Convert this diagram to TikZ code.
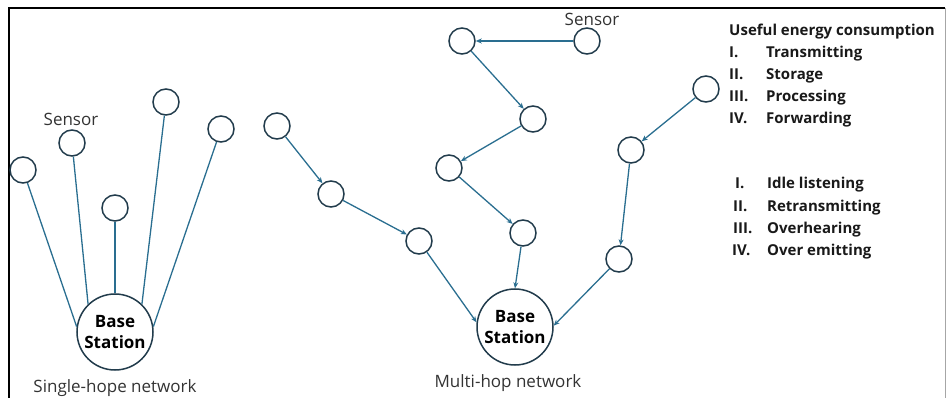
\documentclass[tikz,border=0pt]{standalone}
\usepackage{fontspec}
\setmainfont{Open Sans}
\usetikzlibrary{arrows.meta}
\definecolor{ring}{HTML}{223C4C}
\definecolor{link}{HTML}{2A6E90}
\begin{document}
\begin{tikzpicture}[x=1pt,y=-1pt,
 sensor/.style={circle,draw=ring,line width=1.5pt,minimum size=26pt,inner sep=0pt},
 bstation/.style={circle,draw=ring,line width=1.5pt,minimum size=76pt,inner sep=0pt,font=\fontsize{17}{21}\selectfont\bfseries,align=center},
 wire/.style={draw=link,line width=1.3pt},
 hop/.style={wire,-{Stealth[length=6pt,width=5pt]}},
 lbl/.style={font=\fontsize{17}{20}\selectfont,text=black!80,inner sep=0pt},
 item/.style={font=\fontsize{15}{17}\selectfont\bfseries,anchor=base west,inner sep=0pt,text=black!90}
]
\useasboundingbox (0,0) rectangle (946,398);
% frame
\draw[black,line width=1.6pt] (9,398) -- (9,8) -- (945,8);
\draw[black!35,line width=1pt] (945,8) -- (945,398);

% single-hop network
\node[bstation] (bs1) at (115,332) {Base\\Station};
\node[sensor] (c1) at (23,170) {};
\node[sensor] (c2) at (72,143) {};
\node[sensor] (c3) at (115,208) {};
\node[sensor] (c4) at (166,102) {};
\node[sensor] (c5) at (221,129) {};
\node[lbl] (sl1) at (71,119) {Sensor};
\node[lbl] (net1) at (115,388) {Single-hope network};
\draw[wire] (c1) -- (bs1.172);
\draw[wire] (c2) -- (bs1.134);
\draw[wire] (c3) -- (bs1.90);
\draw[wire] (c4) -- (bs1.46);
\draw[wire] (c5) -- (bs1.8);

% multi-hop network
\node[bstation] (bs2) at (515,327) {Base\\Station};
\node[sensor] (s0) at (587,41) {};
\node[sensor] (m1) at (462,41) {};
\node[sensor] (m2) at (533,119) {};
\node[sensor] (m3) at (449,168) {};
\node[sensor] (m4) at (523,233) {};
\node[sensor] (a1) at (277,126) {};
\node[sensor] (a2) at (331,194) {};
\node[sensor] (a3) at (419,241) {};
\node[sensor] (r1) at (706,89) {};
\node[sensor] (r2) at (631,150) {};
\node[sensor] (r3) at (619,259) {};
\node[lbl] (sl2) at (592,19) {Sensor};
\node[lbl] (net2) at (508,383) {Multi-hop network};
\draw[hop] (s0) -- (m1);
\draw[hop] (m1) -- (m2);
\draw[hop] (m2) -- (m3);
\draw[hop] (m3) -- (m4);
\draw[hop] (m4) -- (bs2.90);
\draw[hop] (a1) -- (a2);
\draw[hop] (a2) -- (a3);
\draw[hop] (a3) -- (bs2.173);
\draw[hop] (r1) -- (r2);
\draw[hop] (r2) -- (r3);
\draw[hop] (r3) -- (bs2.2);

% energy lists
\node[item] (title) at (729,36) {Useful energy consumption};
\node[item] (u1n) at (729,58) {I.};
\node[item] (u1) at (766,58) {Transmitting};
\node[item] (u2n) at (729,80) {II.};
\node[item] (u2) at (766,80) {Storage};
\node[item] (u3n) at (729,102) {III.};
\node[item] (u3) at (766,102) {Processing};
\node[item] (u4n) at (729,124) {IV.};
\node[item] (u4) at (766,124) {Forwarding};
\node[item] (w1n) at (735,189) {I.};
\node[item] (w1) at (767,189) {Idle listening};
\node[item] (w2n) at (733,212) {II.};
\node[item] (w2) at (767,212) {Retransmitting};
\node[item] (w3n) at (733,234) {III.};
\node[item] (w3) at (767,234) {Overhearing};
\node[item] (w4n) at (732,256) {IV.};
\node[item] (w4) at (767,256) {Over emitting};
\end{tikzpicture}
\end{document}
